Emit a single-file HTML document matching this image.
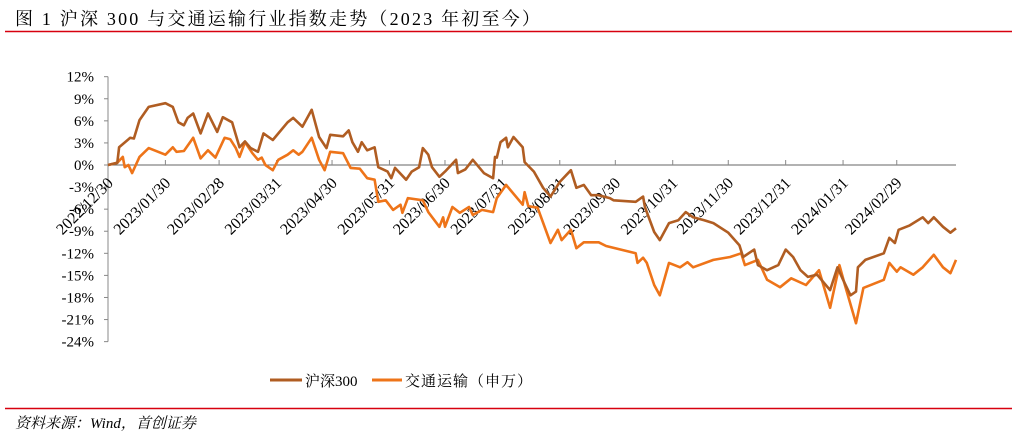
<!DOCTYPE html>
<html><head><meta charset="utf-8">
<style>
html,body{margin:0;padding:0;background:#fff;}
body{width:1017px;height:436px;overflow:hidden;position:relative;font-family:"Liberation Serif","Noto Serif CJK SC",serif;}
svg{position:absolute;left:0;top:0;}
</style></head>
<body>
<svg id="chart" width="1017" height="436" viewBox="0 0 1017 436">
  <text x="15" y="25" font-size="18" letter-spacing="2.2" fill="#000" font-family="'Liberation Serif','Noto Serif CJK SC',serif">图 1 沪深 300 与交通运输行业指数走势（2023 年初至今）</text>
  <line x1="5" y1="31.5" x2="1012" y2="31.5" stroke="#d7000f" stroke-width="1.5"/>
  <line x1="5" y1="408.5" x2="1012" y2="408.5" stroke="#d7000f" stroke-width="1.5"/>
  <text x="15" y="428" font-size="15" font-style="italic" fill="#000" font-family="'Liberation Serif','Noto Serif CJK SC',serif">资料来源：Wind，首创证券</text>
  <g id="yaxis"></g>
  <g id="xaxis"></g>
  <g id="series"></g>
  <g>
    <g>
      <line x1="270" y1="380" x2="302" y2="380" stroke="#b05d22" stroke-width="3"/>
      <text x="305" y="386" font-size="15" font-family="'Liberation Serif','Noto Serif CJK SC',serif">沪深300</text>
    </g>
    <g>
      <line x1="372" y1="380" x2="402" y2="380" stroke="#ee7419" stroke-width="3"/>
      <text x="405" y="386" font-size="15" letter-spacing="1" font-family="'Liberation Serif','Noto Serif CJK SC',serif">交通运输（申万）</text>
    </g>
  </g>
</svg>
<script>
const yTicks = [12, 9, 6, 3, 0, -3, -6, -9, -12, -15, -18, -21, -24];
const xTickDays = [0, 31, 60, 91, 121, 152, 182, 213, 244, 274, 305, 335, 366, 397, 426];
const xTickLabels = ["2022/12/30","2023/01/30","2023/02/28","2023/03/31","2023/04/30","2023/05/31","2023/06/30","2023/07/31","2023/08/31","2023/09/30","2023/10/31","2023/11/30","2023/12/31","2024/01/31","2024/02/29"];
const hsDays = [0,5,6,12,14,17,22,31,35,38,41,43,46,50,54,59,62,67,71,74,77,81,84,89,97,100,105,110,114,118,120,127,130,132,135,137,140,144,146,151,153,155,161,164,168,170,173,175,179,182,188,189,193,197,203,208,209,210,212,215,216,219,224,225,230,235,239,244,250,253,257,261,265,271,273,285,289,290,295,298,303,308,312,316,322,327,335,341,343,349,351,356,362,366,370,374,378,383,390,394,397,401,404,405,409,419,422,425,427,433,440,443,446,451,455,458];
const hsVals = [0,0.3,2.4,3.7,3.6,6.1,7.9,8.4,7.9,5.8,5.4,6.4,7.0,4.3,7.0,4.5,6.5,5.8,2.4,3.2,2.3,1.8,4.3,3.4,5.8,6.4,5.2,7.5,3.8,2.3,4.1,3.9,4.7,3.1,1.8,3.1,2.0,2.4,-0.3,-0.9,-1.8,-0.4,-2.0,-0.9,-0.3,2.3,1.4,-0.3,-1.6,-0.9,0.7,-1.1,-0.6,0.7,-1.1,-1.8,1.1,1.0,3.1,3.7,2.4,3.8,2.4,0.4,-0.9,-3.1,-4.3,-2.3,-0.7,-3.1,-2.7,-4.1,-4.1,-4.5,-4.8,-5.0,-4.3,-5.7,-9.1,-10.2,-7.9,-7.5,-6.4,-7.1,-7.5,-7.9,-9.2,-10.9,-12.5,-11.5,-13.6,-14.3,-13.6,-11.5,-12.5,-14.3,-15.2,-14.9,-17.0,-13.9,-15.6,-17.7,-17.2,-13.9,-12.9,-12.0,-9.9,-10.6,-8.8,-8.2,-7.1,-7.9,-7.1,-8.4,-9.2,-8.6];
const trDays = [0,5,8,9,11,13,15,17,22,31,35,37,41,46,50,54,58,63,66,69,71,74,78,81,83,85,89,92,97,100,103,105,110,114,117,120,127,131,136,140,144,146,150,154,158,159,162,170,173,179,181,182,186,190,195,197,202,208,210,215,224,225,227,232,239,243,245,250,253,257,265,269,285,286,289,291,295,298,303,309,313,316,327,336,342,344,351,356,363,369,377,384,390,395,398,404,408,419,422,426,428,435,440,446,451,455,458];
const trVals = [0,0.3,1.1,-0.3,0,-1.1,0,1.1,2.3,1.4,2.4,1.8,1.9,3.7,0.9,2.0,1.0,3.7,3.5,2.3,1.1,3.1,1.6,0.7,1.0,0,-0.7,0.7,1.4,2.0,1.4,1.8,3.7,0.7,-0.7,1.8,1.6,-0.4,-0.5,-1.8,-2.0,-5.0,-4.8,-6.1,-5.4,-6.5,-4.5,-4.8,-6.4,-8.4,-7.1,-8.4,-5.7,-6.5,-5.7,-6.8,-6.1,-6.4,-4.5,-2.7,-5.4,-3.7,-5.6,-5.8,-10.6,-8.8,-10.2,-8.8,-11.3,-10.5,-10.5,-11.0,-12.0,-13.3,-12.6,-13.3,-16.3,-17.7,-13.3,-13.9,-13.2,-13.9,-12.9,-12.5,-12.0,-13.6,-12.9,-15.6,-16.6,-15.4,-16.3,-14.3,-19.4,-13.6,-16.3,-21.5,-16.7,-15.6,-13.3,-14.5,-13.9,-14.9,-13.9,-12.2,-13.9,-14.7,-12.9];

const NS = "http://www.w3.org/2000/svg";
const X0 = 108, X1 = 956, DMAX = 458;
const Y0 = 165, PX_PER = 7.36;
function xs(d){ return X0 + (X1 - X0) * d / DMAX; }
function ys(v){ return Y0 - v * PX_PER; }
function mk(tag, attrs, parent){ const e = document.createElementNS(NS, tag); for (const k in attrs) e.setAttribute(k, attrs[k]); parent.appendChild(e); return e; }

const yg = document.getElementById('yaxis');
const yl = mk('line', {x1:X0, y1:ys(12), x2:X0, y2:ys(-24), stroke:'#888', 'stroke-width':1}, yg);


yTicks.forEach(v => {
  const t = mk('line', {x1:X0-4, y1:ys(v), x2:X0, y2:ys(v), stroke:'#888', 'stroke-width':1}, yg);
  
  
  const tx = mk('text', {x:X0-14, y:ys(v)+5, 'text-anchor':'end', 'font-size':15, fill:'#000'}, yg);
  tx.textContent = v + '%';
  
  
});

const xg = document.getElementById('xaxis');
const xl = mk('line', {x1:X0, y1:Y0, x2:X1, y2:Y0, stroke:'#666', 'stroke-width':1}, xg);


xTickDays.forEach((d, i) => {
  const x = xs(d);
  const t = mk('line', {x1:x, y1:Y0-5, x2:x, y2:Y0, stroke:'#888', 'stroke-width':1}, xg);
  
  
  const ax = x + 6, ay = Y0 + 19;
  const tx = mk('text', {x:ax, y:ay, 'text-anchor':'end', 'font-size':16, fill:'#000', transform:'rotate(-45 '+ax+' '+ay+')'}, xg);
  tx.textContent = xTickLabels[i];
  
  
});

const sg = document.getElementById('series');
function drawLine(days, vals, color, name){
  const pts = days.map((d, i) => xs(d).toFixed(1) + ',' + ys(vals[i]).toFixed(1)).join(' ');
  const p = mk('polyline', {points:pts, fill:'none', stroke:color, 'stroke-width':2.6, 'stroke-linejoin':'round'}, sg);
  
  
}
drawLine(trDays, trVals, '#ee7419', 'transport-line');
drawLine(hsDays, hsVals, '#b05d22', 'hs300-line');
</script>
</body></html>
